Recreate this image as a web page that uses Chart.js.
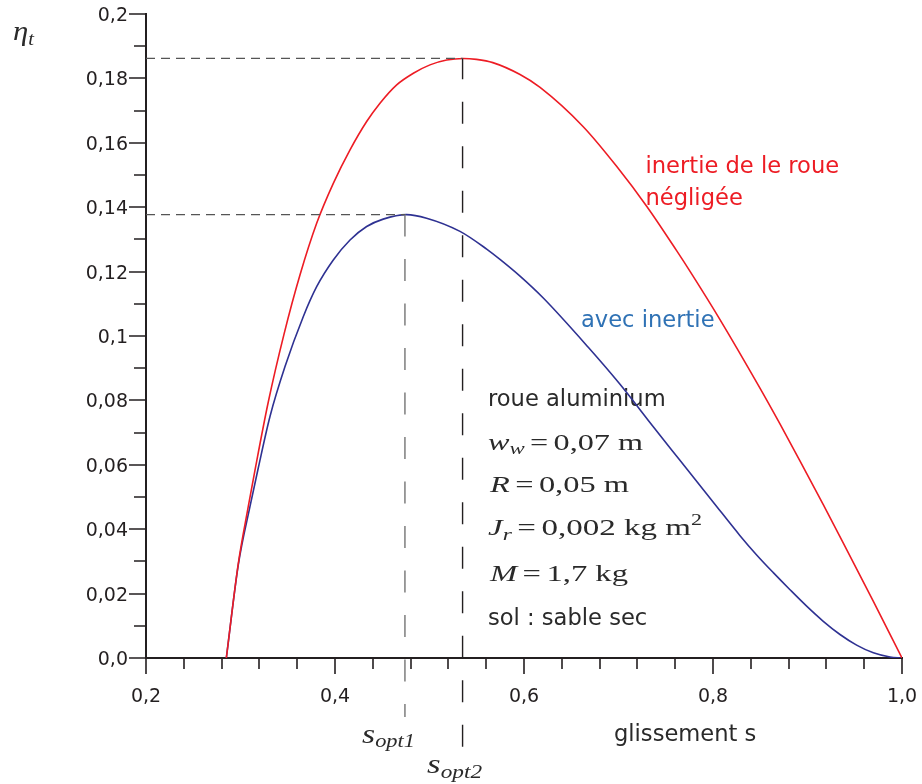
<!DOCTYPE html>
<html><head><meta charset="utf-8">
<script src="https://cdn.jsdelivr.net/npm/chart.js@4.4.1/dist/chart.umd.min.js"></script>
<style>html,body{margin:0;padding:0;background:#fff;}#wrap{width:922px;height:784px;position:relative;}</style>
</head><body><div id="wrap"><canvas id="c" width="922" height="784"></canvas></div>
<script>
// ---- data ----
const sNeglected = [0.285,0.2977,0.3082,0.3153,0.3294,0.3460,0.3630,0.3806,0.3982,0.4159,0.4335,0.4476,0.4653,0.4829,0.5005,0.5182,0.5357,0.5497,0.5670,0.5958,0.6170,0.6627,0.6980,0.7298,0.7615,0.7774,0.8074,0.8497,0.8710,0.8920,0.9167,0.9379,0.9697,1.0];
const etaNeglected = [0,0.0294,0.0470,0.0583,0.0795,0.1005,0.1190,0.1350,0.1474,0.1578,0.1666,0.1723,0.1780,0.1816,0.1842,0.1857,0.1862,0.1859,0.1849,0.1812,0.1772,0.1650,0.1527,0.1403,0.1265,0.1193,0.1051,0.0838,0.0726,0.0612,0.0476,0.0357,0.0176,0];
const sInertia = [0.285,0.2977,0.3100,0.3188,0.3312,0.3471,0.3664,0.3806,0.3982,0.4159,0.4335,0.4510,0.4757,0.4969,0.5323,0.5605,0.5746,0.5958,0.6204,0.6680,0.7016,0.7368,0.7650,0.8003,0.8286,0.8462,0.8638,0.8815,0.8991,0.9167,0.9344,0.9520,0.9697,0.9873,1.0];
const etaInertia = [0,0.0290,0.0470,0.0590,0.0750,0.0905,0.1060,0.1153,0.1236,0.1298,0.1340,0.1363,0.1377,0.1366,0.1325,0.1270,0.1238,0.1186,0.1118,0.0965,0.0850,0.0718,0.0614,0.0484,0.0380,0.0320,0.0265,0.0212,0.0161,0.0114,0.0073,0.0040,0.0016,0.0003,0];
const xTickValues = [0.2,0.4,0.6,0.8,1.0];
const xTickLabels = ['0,2','0,4','0,6','0,8','1,0'];
const xMinorTicks = [0.2,0.24,0.28,0.32,0.36,0.4,0.44,0.48,0.52,0.56,0.6,0.64,0.68,0.72,0.76,0.8,0.84,0.88,0.92,0.96,1.0];
const yTickValues = [0,0.02,0.04,0.06,0.08,0.1,0.12,0.14,0.16,0.18,0.2];
const yTickLabels = ['0,0','0,02','0,04','0,06','0,08','0,1','0,12','0,14','0,16','0,18','0,2'];
const yMinorTicks = [0,0.01,0.02,0.03,0.04,0.05,0.06,0.07,0.08,0.09,0.1,0.11,0.12,0.13,0.14,0.15,0.16,0.17,0.18,0.19,0.2];
const sOpt = [0.474, 0.535];
const etaOpt = [0.1377, 0.1862];
const sOptLineBottom = [-0.0183, -0.0276];

const RED = '#ed1c24', NAVY = '#2e3192', INK = '#231f20', TXT = '#2a2a2a';
const pts = (xs, ys) => xs.map((x, i) => ({x, y: ys[i]}));
const isMajor = (v, arr) => arr.some(t => Math.abs(t - v) < 1e-9);

const SERIF = '"Liberation Serif"';
function drawRuns(ctx, runs, x, y, targetW, color) {
  let w = 0;
  runs.forEach(r => {
    if (r.gap) { r.w = r.gap; } else { ctx.font = r.f; r.w = ctx.measureText(r.t).width; }
    w += r.w;
  });
  const sx = targetW ? targetW / w : 1;
  ctx.save();
  ctx.translate(x, y); ctx.scale(sx, 1);
  ctx.fillStyle = color; ctx.textBaseline = 'alphabetic'; ctx.textAlign = 'left';
  let cx = 0;
  runs.forEach(r => { if (!r.gap) { ctx.font = r.f; ctx.fillText(r.t, cx, r.dy || 0); } cx += r.w; });
  ctx.restore();
}
const I24 = 'italic 24px ' + SERIF, R24 = '24px ' + SERIF, I17 = 'italic 17px ' + SERIF, R16 = '16px ' + SERIF;
const I27 = 'italic 27px ' + SERIF, I18 = 'italic 18px ' + SERIF;

const annotations = {
  id: 'annotations',
  beforeDatasetsDraw(chart) {
    const ctx = chart.ctx, X = chart.scales.x, Y = chart.scales.y;
    const px = v => X.getPixelForValue(v), py = v => Y.getPixelForValue(v);
    ctx.save();
    const sans = (t, s, e, col) => {
      ctx.font = '22.6px "DejaVu Sans"'; ctx.fillStyle = col; ctx.textAlign = 'left'; ctx.textBaseline = 'alphabetic';
      ctx.fillText(t, px(s), py(e));
    };
    sans('inertie de le roue', 0.7286, 0.1506, RED);
    sans('négligée', 0.7286, 0.1407, RED);
    sans('avec inertie', 0.6603, 0.1029, '#2f72b5');
    sans('roue aluminium', 0.5619, 0.0783, TXT);
    sans('sol : sable sec', 0.5619, 0.0102, TXT);
    sans('glissement s', 0.6952, -0.0259, TXT);
    // math lines
    drawRuns(ctx, [{t:'w',f:I24},{t:'w',f:I17,dy:4},{gap:4},{t:'=',f:R24},{gap:4},{t:'0,07 m',f:R24}], px(0.5619), py(0.0646), 155, TXT);
    drawRuns(ctx, [{t:'R',f:I24},{gap:4},{t:'=',f:R24},{gap:4},{t:'0,05 m',f:R24}], px(0.5640), py(0.0516), 139, TXT);
    drawRuns(ctx, [{t:'J',f:I24},{t:'r',f:I17,dy:5},{gap:4},{t:'=',f:R24},{gap:4},{t:'0,002 kg m',f:R24},{t:'2',f:R16,dy:-10}], px(0.5619), py(0.0382), 214, TXT);
    drawRuns(ctx, [{t:'M',f:I24},{gap:4},{t:'=',f:R24},{gap:4},{t:'1,7 kg',f:R24}], px(0.5640), py(0.0239), 138, TXT);
    // axis symbol and s_opt labels
    drawRuns(ctx, [{t:'η',f:I27},{t:'t',f:I18,dy:5}], px(0.0593), py(0.1919), 21, TXT);
    drawRuns(ctx, [{t:'s',f:I27},{t:'opt1',f:I18,dy:4}], px(0.4286), py(-0.0263), 53, TXT);
    drawRuns(ctx, [{t:'s',f:I27},{t:'opt2',f:I18,dy:5}], px(0.4974), py(-0.0358), 55, TXT);
    ctx.restore();
  },
  afterDraw(chart) {
    const ctx = chart.ctx, X = chart.scales.x, Y = chart.scales.y;
    ctx.save();
    ctx.strokeStyle = INK; ctx.lineWidth = 1.6;
    ctx.beginPath();
    const yb = Y.getPixelForValue(0);
    xMinorTicks.forEach(v => {
      const p = Math.round(X.getPixelForValue(v));
      ctx.moveTo(p, yb); ctx.lineTo(p, yb + (isMajor(v, xTickValues) ? 16 : 11));
    });
    const xl = X.getPixelForValue(0.2);
    yMinorTicks.forEach(v => {
      const p = Math.round(Y.getPixelForValue(v));
      ctx.moveTo(xl, p); ctx.lineTo(xl - (isMajor(v, yTickValues) ? 17 : 12), p);
    });
    ctx.stroke();
    ctx.restore();
  }
};

const curve = (data, color) => ({data, borderColor: color, borderWidth: 1.6, pointRadius: 0, fill: false, cubicInterpolationMode: 'monotone'});
const guide = (data, color, dash, width) => ({data, borderColor: color, borderWidth: width, borderDash: dash, pointRadius: 0, fill: false, tension: 0, clip: false});

new Chart(document.getElementById('c'), {
  type: 'line',
  data: {
    datasets: [
      guide([{x:0.2,y:etaOpt[1]},{x:sOpt[1],y:etaOpt[1]}], '#555', [9,6], 1.2),
      guide([{x:0.2,y:etaOpt[0]},{x:sOpt[0],y:etaOpt[0]}], '#555', [9,6], 1.2),
      guide([{x:sOpt[0],y:etaOpt[0]},{x:sOpt[0],y:sOptLineBottom[0]}], '#858585', [22,22.5], 1.6),
      guide([{x:sOpt[1],y:sOptLineBottom[1]},{x:sOpt[1],y:etaOpt[1]}], INK, [22,22.5], 1.4),
      curve(pts(sNeglected, etaNeglected), RED),
      curve(pts(sInertia, etaInertia), NAVY)
    ]
  },
  options: {
    responsive: false, animation: false, devicePixelRatio: 1,
    layout: {padding: {top: 14, right: 20, bottom: 0, left: 0}},
    plugins: {legend: {display: false}, tooltip: {enabled: false}},
    scales: {
      x: {
        type: 'linear', min: 0.2, max: 1.0,
        afterBuildTicks: s => { s.ticks = xTickValues.map(v => ({value: v})); },
        afterFit: s => { s.height = 126; s.paddingLeft = 0; s.paddingRight = 0; },
        ticks: {callback: (v, i) => xTickLabels[i], font: {family: 'DejaVu Sans', size: 19}, color: INK, padding: 28, maxRotation: 0, autoSkip: false},
        grid: {display: true, drawOnChartArea: false, drawTicks: false},
        border: {display: true, color: INK, width: 2}
      },
      y: {
        type: 'linear', min: 0, max: 0.2,
        afterBuildTicks: s => { s.ticks = yTickValues.map(v => ({value: v})); },
        afterFit: s => { s.width = 146; s.paddingTop = 0; s.paddingBottom = 0; },
        ticks: {callback: (v, i) => yTickLabels[i], font: {family: 'DejaVu Sans', size: 19}, color: INK, padding: 18, labelOffset: 2, autoSkip: false},
        grid: {display: true, drawOnChartArea: false, drawTicks: false},
        border: {display: true, color: INK, width: 2}
      }
    }
  },
  plugins: [annotations]
});
</script></body></html>
